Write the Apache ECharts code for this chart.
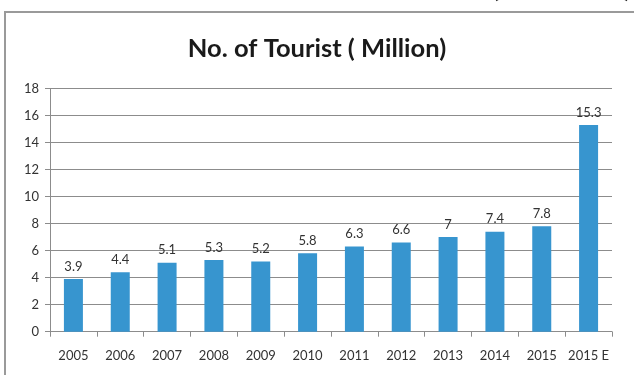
<!DOCTYPE html>
<html>
<head>
<meta charset="utf-8">
<script src="https://cdn.jsdelivr.net/npm/echarts@6/dist/echarts.min.js"></script>
<style>
html,body{margin:0;padding:0;background:#fff;}
#chart{width:634px;height:375px;}
</style>
</head>
<body>
<div id="chart"></div>
<script>
var categories = ['2005','2006','2007','2008','2009','2010','2011','2012','2013','2014','2015','2015 E'];
var tourists = [3.9, 4.4, 5.1, 5.3, 5.2, 5.8, 6.3, 6.6, 7, 7.4, 7.8, 15.3];
var yTicks = {min: 0, max: 18, interval: 2};
var titleText = 'No. of Tourist ( Million)';

var chart = echarts.init(document.getElementById('chart'), null, {renderer: 'canvas'});
var FONT = 'Lato, "Open Sans", sans-serif';
chart.setOption({
  animation: false,
  backgroundColor: '#fff',
  title: {
    text: titleText,
    left: 'center',
    top: 31,
    textStyle: {fontFamily: FONT, fontWeight: 'bold', fontSize: 25.5, color: '#1a1a1a'}
  },
  graphic: [
    {type: 'rect', shape: {x: 5, y: 12, width: 700, height: 420}, style: {fill: 'none', stroke: '#9a9a9a', lineWidth: 2}, z: 100},
    {type: 'text', left: 492, top: -24, style: {text: '(', font: 'bold 26px ' + FONT, fill: '#222'}},
    {type: 'text', left: 624, top: -24, style: {text: ')', font: 'bold 26px ' + FONT, fill: '#222'}}
  ],
  grid: {left: 50, right: 22, top: 88.5, bottom: 43.3, containLabel: false},
  xAxis: {
    type: 'category',
    data: categories,
    axisLine: {lineStyle: {color: '#8c8c8c', width: 1}},
    axisTick: {show: true, length: 5, lineStyle: {color: '#8c8c8c'}},
    axisLabel: {color: '#333', fontSize: 13, fontFamily: FONT, margin: 18, interval: 0}
  },
  yAxis: {
    type: 'value',
    min: yTicks.min, max: yTicks.max, interval: yTicks.interval,
    axisLine: {show: true, lineStyle: {color: '#8c8c8c', width: 1}},
    axisTick: {show: true, length: 5, lineStyle: {color: '#8c8c8c'}},
    axisLabel: {color: '#333', fontSize: 13, fontFamily: FONT, margin: 11},
    splitLine: {lineStyle: {color: '#8c8c8c', width: 1}}
  },
  series: [{
    type: 'bar',
    data: tourists,
    barWidth: 19,
    itemStyle: {color: '#3795cf'},
    label: {show: true, position: 'top', distance: 6, color: '#333', fontSize: 13, fontFamily: FONT}
  }]
});
</script>
</body>
</html>
